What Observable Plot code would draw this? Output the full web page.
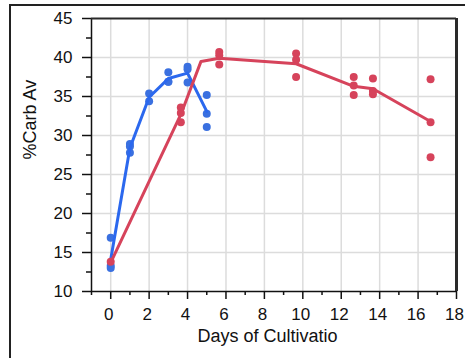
<!DOCTYPE html>
<html>
<head>
<meta charset="utf-8">
<script src="https://cdn.jsdelivr.net/npm/d3@7"></script>
<script src="https://cdn.jsdelivr.net/npm/@observablehq/plot@0.6"></script>
<style>
  body { margin: 0; background: #fff; }
  #wrap { position: relative; width: 465px; height: 358px; overflow: hidden; }
  #outer { position: absolute; left: 9px; top: 4px; width: 470px; height: 400px;
           border-top: 2px solid #222; border-left: 2px solid #222; pointer-events: none; }
</style>
</head>
<body>
<div id="wrap"><div id="outer"></div></div>
<script>
// Tick labels
const xTicks = [0, 2, 4, 6, 8, 10, 12, 14, 16, 18];
const xMinor = [-1, 1, 3, 5, 7, 9, 11, 13, 15, 17];
const xGrid = [0, 2, 4, 6, 8, 10, 12, 14, 16];
const yTicks = [10, 15, 20, 25, 30, 35, 40, 45];
const yMinor = [12.5, 17.5, 22.5, 27.5, 32.5, 37.5, 42.5];
const yGrid = [15, 20, 25, 30, 35, 40];

// Blue series (replicate points + mean line)
const blueX = [0, 0, 0, 1, 1, 1, 2, 2, 3, 3, 3, 4, 4, 4, 5, 5, 5];
const blueY = [16.9, 13.3, 13.0, 28.9, 28.6, 27.8, 35.4, 34.4, 38.1, 36.9, 36.9, 38.8, 38.5, 36.8, 35.2, 32.8, 31.1];
const blueLineX = [0, 1, 2, 3, 4, 5];
const blueLineY = [14.1, 28.4, 34.9, 37.3, 38.0, 33.1];

// Red series
const redX = [0, 3.65, 3.65, 3.65, 5.65, 5.65, 5.65, 9.65, 9.65, 9.65, 12.65, 12.65, 12.65, 13.65, 13.65, 13.65, 16.65, 16.65, 16.65];
const redY = [13.8, 33.6, 32.9, 31.7, 40.7, 40.3, 39.1, 40.5, 39.7, 37.5, 37.5, 36.4, 35.2, 37.3, 35.7, 35.3, 37.2, 31.7, 27.2];
const redLineX = [0, 3.65, 4.7, 5.65, 9.65, 12.65, 13.65, 16.65];
const redLineY = [13.7, 32.7, 39.5, 39.9, 39.2, 36.3, 36.0, 31.8];

const blueColor = "#2b68ee";
const blueDot = "#3a70e0";
const redColor = "#d6435b";

const zip = (xs, ys) => xs.map((x, i) => ({x, y: ys[i]}));
const blueDots = zip(blueX, blueY);
const blueLine = zip(blueLineX, blueLineY);
const redDots = zip(redX, redY);
const redLine = zip(redLineX, redLineY);

const chart = Plot.plot({
  width: 465,
  height: 358,
  marginLeft: 91,
  marginRight: 9,
  marginTop: 18,
  marginBottom: 67,
  x: {domain: [-1, 18]},
  y: {domain: [10, 45]},
  style: {fontFamily: "'Liberation Sans', Arial, sans-serif", fontSize: "17px", background: "transparent", color: "#111"},
  marks: [
    Plot.gridX(xGrid, {stroke: "#dcdcdc", strokeOpacity: 1, strokeWidth: 1.5}),
    Plot.gridY(yGrid, {stroke: "#dcdcdc", strokeOpacity: 1, strokeWidth: 1.5}),
    Plot.axisX(xMinor, {tickSize: 4, text: null, stroke: "#111", strokeWidth: 1.5, label: null}),
    Plot.axisX(xTicks, {tickSize: 8, text: null, stroke: "#111", strokeWidth: 1.5, label: null}),
    Plot.axisX(xTicks, {tickSize: 0, tickPadding: 16, dx: -2, label: null, fontSize: 17}),
    Plot.axisY(yMinor, {tickSize: 5, text: null, stroke: "#111", strokeWidth: 1.5, label: null}),
    Plot.axisY(yTicks, {tickSize: 9, tickPadding: 10, stroke: "#111", strokeWidth: 1.5, label: null, fontSize: 17}),
    Plot.text(["%Carb Av"], {frameAnchor: "left", rotate: -90, dx: -61, dy: 4.5, fontSize: 18, fill: "#111"}),
    Plot.text(["Days of Cultivatio"], {frameAnchor: "bottom", dy: 50.7, dx: -6.5, fontSize: 18, fill: "#111"}),
    Plot.ruleX([-1], {stroke: "#111", strokeWidth: 1.5}),
    Plot.ruleY([10], {stroke: "#111", strokeWidth: 1.5}),
    Plot.ruleX([18], {stroke: "#2a2a2a", strokeWidth: 3}),
    Plot.ruleY([45], {stroke: "#2a2a2a", strokeWidth: 2}),
    Plot.dot(blueDots, {x: "x", y: "y", r: 4, fill: blueDot, stroke: "none"}),
    Plot.line(blueLine, {x: "x", y: "y", stroke: blueColor, strokeWidth: 3}),
    Plot.dot(redDots, {x: "x", y: "y", r: 4, fill: redColor, stroke: "none"}),
    Plot.line(redLine, {x: "x", y: "y", stroke: redColor, strokeWidth: 3})
  ]
});
document.getElementById("wrap").prepend(chart);
</script>
</body>
</html>
